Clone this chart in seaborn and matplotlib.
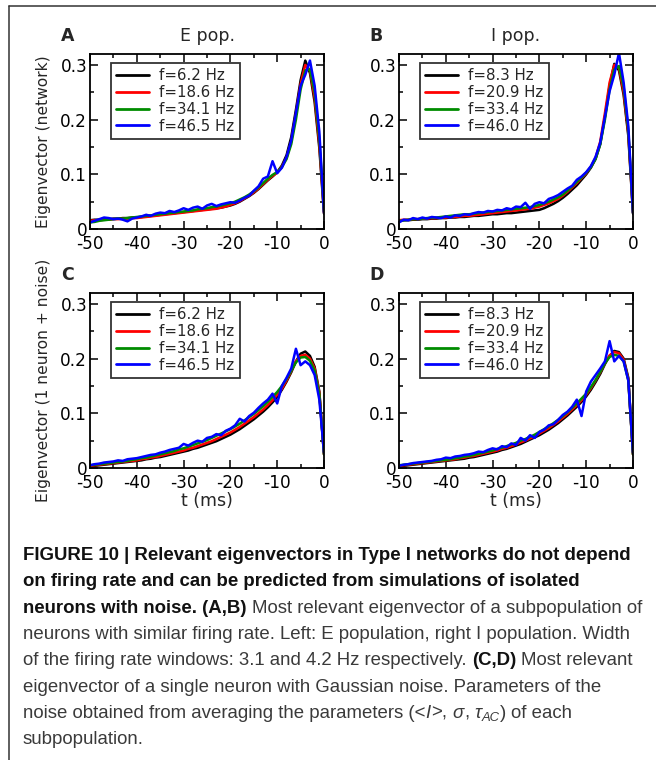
import numpy as np
import pandas as pd
import matplotlib
matplotlib.use("Agg")
import matplotlib.pyplot as plt
import seaborn as sns
from matplotlib.lines import Line2D
from matplotlib.ticker import MultipleLocator, FixedLocator

# ---------------- data ----------------
T_MS = list(range(-50, 1))

LABELS_E = ["f=6.2 Hz", "f=18.6 Hz", "f=34.1 Hz", "f=46.5 Hz"]
LABELS_I = ["f=8.3 Hz", "f=20.9 Hz", "f=33.4 Hz", "f=46.0 Hz"]
COLORS = ["#000000", "#ff0000", "#008c00", "#0000ff"]

PANEL_LETTERS = ["A", "B", "C", "D"]
PANEL_TITLES = ["E pop.", "I pop.", "", ""]
YLABEL_TOP = "Eigenvector (network)"
YLABEL_BOTTOM = "Eigenvector (1 neuron + noise)"
XLABEL = "t (ms)"
X_TICKS = [-50, -40, -30, -20, -10, 0]
X_TICK_LABELS = ["-50", "-40", "-30", "-20", "-10", "0"]
Y_TICKS = [0, 0.1, 0.2, 0.3]
Y_TICK_LABELS = ["0", "0.1", "0.2", "0.3"]

# Panel A: E population, network
A_BLACK = [.016, .017, .017, .018, .018, .019, .019, .020, .020, .021,
           .021, .022, .023, .024, .025, .026, .027, .028, .029, .030,
           .031, .032, .033, .034, .035, .036, .037, .038, .039, .041,
           .043, .046, .050, .055, .060, .066, .073, .081, .089, .096,
           .104, .116, .135, .168, .218, .272, .308, .285, .232, .148, .028]
A_RED = [.015, .016, .016, .017, .017, .018, .018, .019, .019, .020,
         .020, .021, .022, .023, .024, .025, .026, .027, .028, .029,
         .030, .031, .032, .033, .034, .035, .036, .037, .039, .041,
         .044, .047, .051, .056, .061, .067, .074, .082, .090, .097,
         .103, .114, .130, .160, .210, .265, .300, .290, .240, .155, .030]
A_GREEN = [.012, .013, .015, .016, .017, .018, .019, .019, .020, .021,
           .022, .023, .024, .025, .026, .027, .028, .029, .030, .031,
           .032, .033, .034, .036, .037, .038, .040, .041, .043, .045,
           .047, .050, .054, .058, .063, .069, .076, .084, .092, .099,
           .104, .113, .128, .155, .200, .255, .290, .292, .250, .165, .032]
A_BLUE = [.012, .015, .018, .021, .020, .018, .019, .017, .014, .019,
          .021, .023, .026, .024, .028, .030, .029, .033, .031, .034,
          .038, .035, .039, .041, .037, .043, .046, .042, .045, .047,
          .049, .048, .052, .057, .061, .070, .078, .092, .096, .124,
          .102, .112, .132, .162, .212, .262, .282, .308, .262, .178, .030]

# Panel B: I population, network
B_BLACK = [.015, .016, .016, .017, .017, .018, .018, .019, .019, .020,
           .020, .021, .021, .022, .022, .023, .024, .024, .025, .026,
           .027, .027, .028, .029, .029, .030, .031, .032, .033, .034,
           .035, .038, .042, .046, .051, .057, .064, .072, .080, .090,
           .100, .112, .128, .155, .205, .262, .302, .290, .245, .170, .028]
B_RED = [.016, .017, .017, .018, .018, .019, .019, .020, .020, .021,
         .021, .022, .022, .023, .024, .024, .025, .026, .027, .028,
         .029, .030, .031, .032, .033, .034, .035, .036, .037, .039,
         .041, .044, .047, .051, .055, .061, .068, .076, .084, .093,
         .102, .114, .130, .160, .212, .268, .300, .295, .250, .175, .030]
B_GREEN = [.014, .016, .017, .018, .018, .019, .020, .021, .021, .022,
           .023, .024, .025, .026, .027, .027, .028, .029, .030, .031,
           .032, .033, .034, .035, .036, .037, .038, .039, .040, .042,
           .044, .047, .050, .054, .058, .063, .070, .078, .086, .094,
           .103, .113, .128, .155, .200, .255, .292, .298, .260, .180, .030]
B_BLUE = [.012, .017, .016, .020, .018, .021, .019, .022, .021, .020,
          .023, .021, .025, .024, .027, .026, .029, .031, .030, .033,
          .032, .035, .034, .038, .036, .041, .040, .048, .037, .046,
          .049, .047, .055, .058, .062, .068, .074, .079, .090, .096,
          .104, .115, .132, .158, .205, .252, .282, .322, .268, .188, .030]

# Panel C: E population, 1 neuron + noise
C_BLACK = [.003, .004, .005, .006, .007, .008, .009, .010, .011, .012,
           .013, .014, .016, .017, .019, .020, .022, .024, .026, .028,
           .030, .032, .035, .037, .040, .043, .046, .049, .053, .057,
           .061, .066, .071, .077, .083, .089, .096, .103, .111, .120,
           .130, .143, .158, .175, .195, .209, .213, .205, .185, .140, .025]
C_RED = [.004, .005, .006, .007, .008, .009, .010, .011, .012, .013,
         .014, .016, .017, .019, .020, .022, .024, .026, .028, .030,
         .032, .035, .037, .040, .043, .046, .049, .053, .057, .061,
         .065, .070, .075, .081, .087, .093, .100, .107, .115, .124,
         .134, .145, .160, .177, .195, .205, .207, .200, .182, .138, .025]
C_GREEN = [.005, .006, .007, .008, .009, .010, .011, .012, .013, .015,
           .016, .018, .019, .021, .023, .025, .027, .029, .031, .034,
           .036, .039, .042, .045, .048, .051, .055, .059, .063, .067,
           .071, .076, .081, .087, .093, .099, .106, .113, .121, .130,
           .139, .150, .163, .178, .193, .202, .203, .196, .178, .135, .025]
C_BLUE = [.005, .007, .008, .010, .011, .012, .014, .013, .016, .017,
          .018, .020, .022, .024, .025, .028, .030, .033, .035, .037,
          .044, .041, .046, .050, .048, .055, .057, .062, .060, .068,
          .072, .078, .090, .085, .095, .101, .110, .118, .125, .136,
          .118, .150, .165, .182, .218, .188, .195, .188, .170, .125, .028]

# Panel D: I population, 1 neuron + noise
D_BLACK = [.003, .004, .005, .006, .007, .008, .009, .010, .011, .012,
           .013, .014, .015, .016, .017, .019, .020, .022, .024, .026,
           .028, .030, .033, .035, .038, .041, .044, .048, .052, .056,
           .060, .065, .070, .076, .082, .089, .096, .104, .112, .121,
           .131, .143, .157, .172, .190, .205, .214, .212, .200, .165, .025]
D_RED = [.004, .005, .006, .007, .008, .009, .010, .011, .012, .013,
         .014, .015, .016, .018, .019, .021, .022, .024, .026, .028,
         .030, .032, .035, .037, .040, .043, .047, .050, .054, .058,
         .063, .068, .073, .079, .085, .092, .099, .107, .115, .124,
         .134, .146, .160, .175, .192, .206, .212, .210, .198, .162, .025]
D_GREEN = [.005, .006, .007, .008, .009, .010, .011, .012, .013, .014,
           .015, .016, .018, .019, .021, .022, .024, .026, .028, .030,
           .032, .035, .037, .040, .043, .046, .050, .053, .057, .061,
           .066, .071, .076, .082, .088, .095, .102, .110, .118, .127,
           .136, .148, .161, .176, .192, .203, .207, .205, .195, .160, .025]
D_BLUE = [.004, .006, .007, .009, .010, .011, .012, .013, .015, .016,
          .019, .018, .021, .022, .024, .025, .027, .030, .029, .033,
          .036, .034, .040, .038, .045, .042, .055, .050, .060, .055,
          .066, .070, .078, .080, .088, .097, .103, .112, .125, .095,
          .140, .158, .170, .182, .195, .232, .195, .205, .195, .160, .028]

PANELS = [
    (LABELS_E, [A_BLACK, A_RED, A_GREEN, A_BLUE]),
    (LABELS_I, [B_BLACK, B_RED, B_GREEN, B_BLUE]),
    (LABELS_E, [C_BLACK, C_RED, C_GREEN, C_BLUE]),
    (LABELS_I, [D_BLACK, D_RED, D_GREEN, D_BLUE]),
]

CAPTION = [
    [("FIGURE 10 | Relevant eigenvectors in Type I networks do not depend", "b")],
    [("on firing rate and can be predicted from simulations of isolated", "b")],
    [("neurons with noise. (A,B)", "b"), (" ", "r"),
     ("Most relevant eigenvector of a subpopulation of", "r")],
    [("neurons with similar firing rate. Left: E population, right I population. Width", "r")],
    [("of the firing rate windows: 3.1 and 4.2 Hz respectively.", "r"), (" ", "r"),
     ("(C,D)", "b"), (" ", "r"), ("Most relevant", "r")],
    [("eigenvector of a single neuron with Gaussian noise. Parameters of the", "r")],
    [("noise obtained from averaging the parameters (<", "r"), ("I", "i"), (">,", "r"),
     (" ", "r"), ("\u03c3", "i"), (",", "r"), (" ", "r"), ("\u03c4", "i"), ("AC", "sub"),
     (")", "r"), (" ", "r"), ("of each", "r")],
    [("subpopulation.", "r")],
]

# ---------------- figure ----------------
sns.set_theme(style="white")
plt.rcParams["font.family"] = ["DejaVu Sans"]
plt.rcParams["axes.unicode_minus"] = False

W, H = 656, 760
fig = plt.figure(figsize=(W / 100, H / 100), dpi=100)
fig.patch.set_facecolor("white")

ax_w, ax_h = 234, 175
ax_pos = [(90, 54), (399, 54), (90, 293), (399, 293)]  # left, top in px

for i, (labels, series) in enumerate(PANELS):
    left, top = ax_pos[i]
    ax = fig.add_axes([left / W, 1 - (top + ax_h) / H, ax_w / W, ax_h / H])
    rows = []
    for lab, vals in zip(labels, series):
        for t, v in zip(T_MS, vals):
            rows.append({"t": t, "v": v, "series": lab})
    df = pd.DataFrame(rows)
    sns.lineplot(data=df, x="t", y="v", hue="series", hue_order=labels,
                 palette=dict(zip(labels, COLORS)), estimator=None, sort=False,
                 linewidth=1.8, ax=ax, legend=True)
    handles, labs = ax.get_legend_handles_labels()
    leg = ax.legend(handles, labs, loc="upper left", bbox_to_anchor=(0.088, 0.949),
                    borderaxespad=0, fontsize=10.8, frameon=True, fancybox=False,
                    edgecolor="black", handlelength=2.2, handletextpad=0.7,
                    labelspacing=0.12, borderpad=0.35)
    leg.get_frame().set_linewidth(1.3)
    for lh in leg.get_lines():
        lh.set_linewidth(2.0)

    ax.set_xlim(-50, 0)
    ax.set_ylim(0, 0.32)
    ax.xaxis.set_major_locator(FixedLocator(X_TICKS))
    ax.set_xticklabels(X_TICK_LABELS)
    ax.yaxis.set_major_locator(FixedLocator(Y_TICKS))
    ax.set_yticklabels(Y_TICK_LABELS)
    ax.xaxis.set_minor_locator(MultipleLocator(5))
    ax.yaxis.set_minor_locator(MultipleLocator(0.05))
    ax.tick_params(which="both", direction="in", top=True, right=True,
                   bottom=True, left=True, width=1.1, colors="black",
                   labelsize=12.2)
    ax.tick_params(which="major", length=5.5)
    ax.tick_params(axis="y", which="major", pad=2)
    ax.tick_params(axis="x", which="major", pad=4.5)
    ax.tick_params(which="minor", length=3)
    for sp in ax.spines.values():
        sp.set_linewidth(1.3)
        sp.set_color("black")
        sp.set_visible(True)
    ax.set_facecolor("white")
    ax.grid(False)

    ax.set_xlabel(XLABEL if i >= 2 else "", fontsize=12.5, labelpad=0)
    if i == 0:
        ax.set_ylabel(YLABEL_TOP, fontsize=11.2)
    elif i == 2:
        ax.set_ylabel(YLABEL_BOTTOM, fontsize=11.2)
    else:
        ax.set_ylabel("")
    ax.yaxis.set_label_coords(-0.165, 0.5)

    ax.text(-0.097, 1.105, PANEL_LETTERS[i], transform=ax.transAxes,
            fontsize=12.5, fontweight="bold", ha="center", va="center")
    if PANEL_TITLES[i]:
        ax.text(0.5, 1.105, PANEL_TITLES[i], transform=ax.transAxes,
                fontsize=12.5, ha="center", va="center")

# figure frame (top and left rule)
fig.add_artist(Line2D([8.5 / W, 8.5 / W], [1 - 6 / H, 0], transform=fig.transFigure,
                      color="#333333", lw=1.1))
fig.add_artist(Line2D([8.5 / W, 1], [1 - 6 / H, 1 - 6 / H], transform=fig.transFigure,
                      color="#333333", lw=1.1))

# ---------------- caption ----------------
renderer = fig.canvas.get_renderer()
CAP_FAMILY = ["Liberation Sans Narrow", "Liberation Sans", "DejaVu Sans"]
BOLD_COL = "#111111"
REG_COL = "#3a3a3a"


def style_kw(kind, size):
    if kind == "b":
        return dict(fontweight="bold", color=BOLD_COL, fontsize=size)
    if kind == "i":
        return dict(style="italic", color=REG_COL, fontsize=size)
    if kind == "sub":
        return dict(style="italic", color=REG_COL, fontsize=size * 0.7)
    return dict(color=REG_COL, fontsize=size)


def text_w(s, kw):
    t = fig.text(0, 0, s, family=CAP_FAMILY, **kw)
    w = t.get_window_extent(renderer).width
    t.remove()
    return w


# fit font size so that the first (bold) line spans the measured width
size0 = 10.0
w0 = text_w(CAPTION[0][0][0], style_kw("b", size0))
cap_size = size0 * 609.0 / w0

x0 = 23
base0 = 560
line_gap = 26.3
for li, pieces in enumerate(CAPTION):
    x = x0
    yb = base0 + li * line_gap
    for s, kind in pieces:
        kw = style_kw(kind, cap_size)
        if s == " ":
            x += text_w("x x", kw) - text_w("xx", kw)
            continue
        dy = 3.5 if kind == "sub" else 0
        t = fig.text(x / W, 1 - (yb + dy) / H, s, family=CAP_FAMILY,
                     ha="left", va="baseline", **kw)
        x = t.get_window_extent(renderer).x1 + (0.5 if kind == "i" else 0)

fig.savefig("out.png", dpi=100, facecolor="white")
